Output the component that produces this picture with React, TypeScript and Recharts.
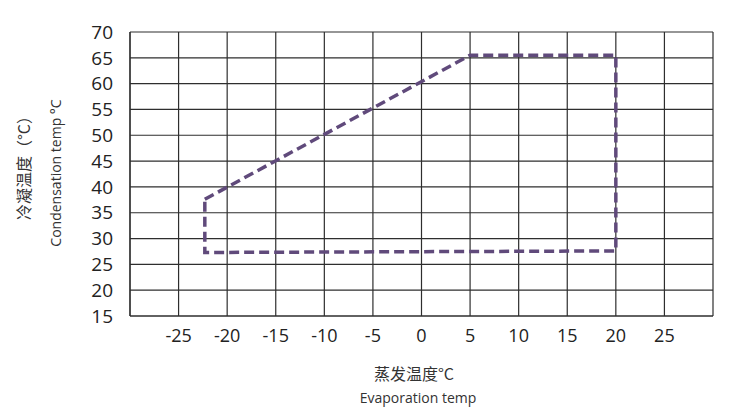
import React from 'react';
import { LineChart, Line, XAxis, YAxis, CartesianGrid } from 'recharts';

// operating envelope outline, in drawing order
const evapTemp = [-22.3, 5, 20, 20, -22.3, -22.3];
const condTemp = [37.6, 65.5, 65.5, 27.6, 27.3, 37.6];

const xTicks = [-30, -25, -20, -15, -10, -5, 0, 5, 10, 15, 20, 25, 30];
const yTicks = [15, 20, 25, 30, 35, 40, 45, 50, 55, 60, 65, 70];

const data = evapTemp.map((x, i) => ({ x, y: condTemp[i] }));

const numFont = "'Open Sans', 'Liberation Sans', sans-serif";
const cjkFont = "'Noto Sans CJK SC', 'Open Sans', sans-serif";

const App: React.FC = () => {
    return (
        <div style={{ position: 'absolute', left: 0, top: 0, width: 730, height: 410, background: '#fff' }}>
            <LineChart
                width={730}
                height={410}
                data={data}
                margin={{ top: 32, right: 17, bottom: 64, left: 0 }}
            >
                <CartesianGrid stroke="#2e2e2e" strokeWidth={1.2} />
                <XAxis
                    dataKey="x"
                    type="number"
                    domain={[-30, 30]}
                    ticks={xTicks}
                    interval={0}
                    height={30}
                    tickFormatter={(v: number) => (v === -30 || v === 30 ? '' : String(v))}
                    tickSize={0}
                    tickMargin={13}
                    axisLine={{ stroke: '#2e2e2e', strokeWidth: 1.2 }}
                    tick={{ fill: '#222', fontSize: 18, fontFamily: numFont }}
                />
                <YAxis
                    type="number"
                    domain={[15, 70]}
                    ticks={yTicks}
                    interval={0}
                    width={130}
                    tickSize={0}
                    tickMargin={17}
                    axisLine={{ stroke: '#2e2e2e', strokeWidth: 1.2 }}
                    tick={{ fill: '#222', fontSize: 19, fontFamily: numFont }}
                />
                <Line
                    type="linear"
                    dataKey="y"
                    stroke="#604a7b"
                    strokeWidth={3.5}
                    strokeDasharray="10 5"
                    dot={false}
                    isAnimationActive={false}
                />
            </LineChart>
            <svg width={730} height={410} style={{ position: 'absolute', left: 0, top: 0, pointerEvents: 'none' }}>
                <text x={414} y={373} textAnchor="middle" dominantBaseline="central" fontSize={16} fontFamily={cjkFont} fill="#333">
                    蒸发温度°C
                </text>
                <text x={418} y={397} textAnchor="middle" dominantBaseline="central" fontSize={14} fontFamily={numFont} fill="#333">
                    Evaporation temp
                </text>
                <text x={23} y={164} textAnchor="middle" dominantBaseline="central" fontSize={16} fontFamily={cjkFont} fill="#333" transform="rotate(-90 23 164)">
                    冷凝温度（°C）
                </text>
                <text x={55} y={173} textAnchor="middle" dominantBaseline="central" fontSize={14} fontFamily={numFont} fill="#333" transform="rotate(-90 55 173)">
                    Condensation temp °C
                </text>
            </svg>
        </div>
    );
};

export default App;
